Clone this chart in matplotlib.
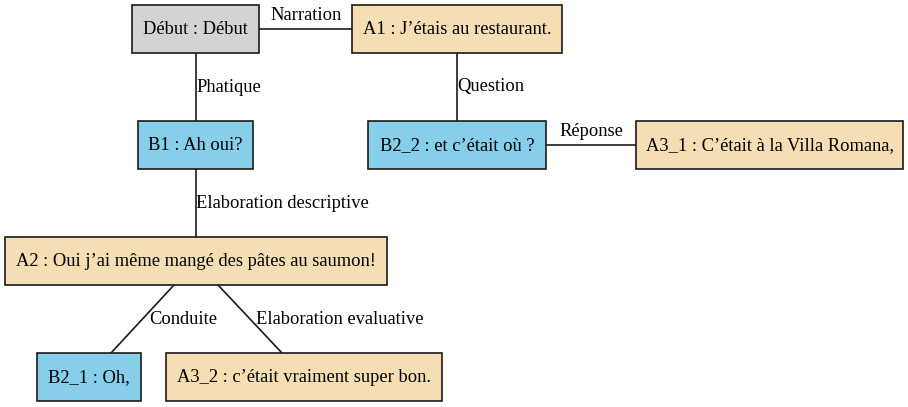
import matplotlib
matplotlib.use("Agg")
import matplotlib.pyplot as plt
from matplotlib.patches import Rectangle

# nodes of the dialogue graph
node_ids = ["Debut", "A1", "B1", "B2_2", "A3_1", "A2", "B2_1", "A3_2"]
node_labels = [
    "Début : Début",
    "A1 : J\u2019étais au restaurant.",
    "B1 : Ah oui?",
    "B2_2 : et c\u2019était où ?",
    "A3_1 : C\u2019était à la Villa Romana,",
    "A2 : Oui j\u2019ai même mangé des pâtes au saumon!",
    "B2_1 : Oh,",
    "A3_2 : c\u2019était vraiment super bon.",
]
node_kinds = ["start", "A", "B", "B", "A", "A", "B", "A"]

# edges (source, target, relation)
edge_src = ["Debut", "Debut", "A1", "B2_2", "B1", "A2", "A2"]
edge_dst = ["A1", "B1", "B2_2", "A3_1", "A2", "B2_1", "A3_2"]
edge_rel = ["Narration", "Phatique", "Question", "Réponse",
            "Elaboration descriptive", "Conduite", "Elaboration evaluative"]

# layout in pixels: x0, y0, x1, y1
boxes = {
    "Debut": (132, 5, 259, 53),
    "A1": (352, 5, 562, 53),
    "B1": (138, 121, 253, 169),
    "B2_2": (368, 121, 546, 169),
    "A3_1": (636, 121, 903, 169),
    "A2": (5, 237, 387, 285),
    "B2_1": (37, 353, 141, 401),
    "A3_2": (166, 353, 442, 401),
}
# edge endpoints and label anchors
edge_lines = [
    ((259, 29), (352, 29)),
    ((196, 53), (196, 121)),
    ((457, 53), (457, 121)),
    ((546, 145), (636, 145)),
    ((196, 169), (196, 237)),
    ((174, 285), (111, 353)),
    ((218, 285), (282, 353)),
]
label_pos = [
    (306, 15, "center"),
    (196, 87, "left"),
    (457, 87, "left"),
    (591, 131, "center"),
    (196, 203, "left"),
    (149, 319, "left"),
    (256, 319, "left"),
]
fills = {"start": "#d3d3d3", "A": "#f5deb3", "B": "#87ceeb"}

W, H = 908, 407
fig = plt.figure(figsize=(W / 100, H / 100), dpi=100)
ax = fig.add_axes([0, 0, 1, 1])
ax.set_xlim(0, W)
ax.set_ylim(H, 0)
ax.axis("off")

font = {"family": "Liberation Serif", "size": 13.3}

for (p, q), (lx, ly, ha), rel in zip(edge_lines, label_pos, edge_rel):
    ax.plot([p[0], q[0]], [p[1], q[1]], color="#1a1a1a", lw=1.2, zorder=1)
    ax.text(lx, ly, rel, ha=ha, va="center", color="black", zorder=3, **font)

for nid, lab, kind in zip(node_ids, node_labels, node_kinds):
    x0, y0, x1, y1 = boxes[nid]
    ax.add_patch(Rectangle((x0, y0), x1 - x0, y1 - y0, facecolor=fills[kind],
                           edgecolor="#1a1a1a", lw=1.2, zorder=2))
    ax.text((x0 + x1) / 2, (y0 + y1) / 2 + 1, lab, ha="center", va="center",
            color="black", zorder=3, **font)

fig.savefig("out.png", dpi=100)
